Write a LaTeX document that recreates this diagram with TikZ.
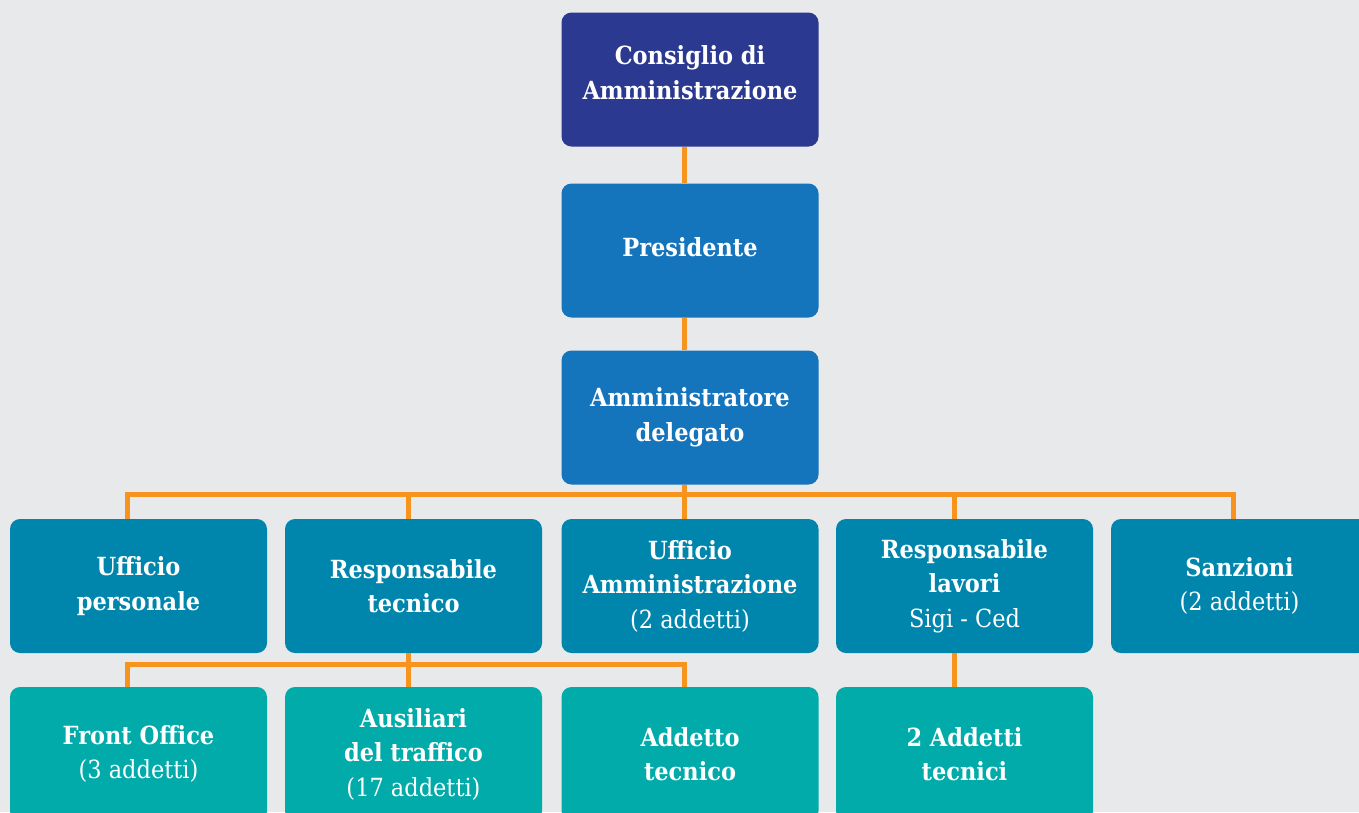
\documentclass[tikz,border=0pt]{standalone}
\usepackage{fontspec}
\setmainfont{DejaVu Serif Condensed}
\definecolor{bgc}{RGB}{232,233,234}
\definecolor{navy}{RGB}{43,57,144}
\definecolor{blu}{RGB}{20,116,188}
\definecolor{tealb}{RGB}{0,134,173}
\definecolor{tealg}{RGB}{0,171,170}
\definecolor{orng}{RGB}{247,148,29}
\tikzset{
  box/.style={rectangle, rounded corners=10pt, minimum width=257pt, minimum height=134pt,
    inner sep=0pt, align=center, text=white, font=\fontsize{25}{34.5}\selectfont},
  lvl0/.style={box, fill=navy},
  lvl1/.style={box, fill=blu},
  lvl2/.style={box, fill=tealb},
  lvl3/.style={box, fill=tealg},
  conn/.style={draw=orng, line width=5pt},
}
\begin{document}
\begin{tikzpicture}[x=1pt,y=-1pt]
\clip (0,0) rectangle (1359,812);
\fill[bgc] (0,0) rectangle (1359,812);
% nodes
\node[lvl0, text height=60pt, text depth=21pt] (cda) at (690,79.5) {\textbf{Consiglio di}\\\textbf{Amministrazione}};
\node[lvl1] (pres) at (690,250.5) {\raisebox{8pt}{\textbf{Presidente}}};
\node[lvl1] (ad) at (690,417.5) {\textbf{Amministratore}\\\textbf{delegato}};
\node[lvl2] (uper) at (138.5,586) {\textbf{Ufficio}\\\textbf{personale}};
\node[lvl2] (rtec) at (413.5,586) {\textbf{Responsabile}\\\textbf{tecnico}};
\node[lvl2] (uamm) at (690,586) {\textbf{Ufficio}\\\textbf{Amministrazione}\\(2 addetti)};
\node[lvl2] (rlav) at (964.5,586) {\textbf{Responsabile}\\\textbf{lavori}\\Sigi - Ced};
\node[lvl2] (sanz) at (1239.5,586) {\textbf{Sanzioni}\\(2 addetti)};
\node[lvl3] (fo) at (138.5,754) {\textbf{Front Office}\\(3 addetti)};
\node[lvl3] (aus) at (413.5,754) {\textbf{Ausiliari}\\\textbf{del traffico}\\(17 addetti)};
\node[lvl3] (atec) at (690,754) {\textbf{Addetto}\\\textbf{tecnico}};
\node[lvl3] (2at) at (964.5,754) {\textbf{2 Addetti}\\\textbf{tecnici}};
% bus coordinates
\coordinate (b1) at (127,494);
\coordinate (b2) at (408,494);
\coordinate (b3) at (684,494);
\coordinate (b4) at (954,494);
\coordinate (b5) at (1233,494);
\coordinate (c1) at (127,664);
\coordinate (c2) at (408,664);
\coordinate (c3) at (684,664);
% connectors
\draw[conn] (b3 |- cda.south) -- (b3 |- pres.north);
\draw[conn] (b3 |- pres.south) -- (b3 |- ad.north);
\draw[conn] (b3 |- ad.south) -- (b3);
\draw[conn] (b1 |- uper.north) -- (b1) -- (b5) -- (b5 |- sanz.north);
\draw[conn] (b2) -- (b2 |- rtec.north);
\draw[conn] (b3) -- (b3 |- uamm.north);
\draw[conn] (b4) -- (b4 |- rlav.north);
\draw[conn] (c2 |- rtec.south) -- (c2);
\draw[conn] (c1 |- fo.north) -- (c1) -- (c3) -- (c3 |- atec.north);
\draw[conn] (c2) -- (c2 |- aus.north);
\draw[conn] (b4 |- rlav.south) -- (b4 |- 2at.north);
\end{tikzpicture}
\end{document}
